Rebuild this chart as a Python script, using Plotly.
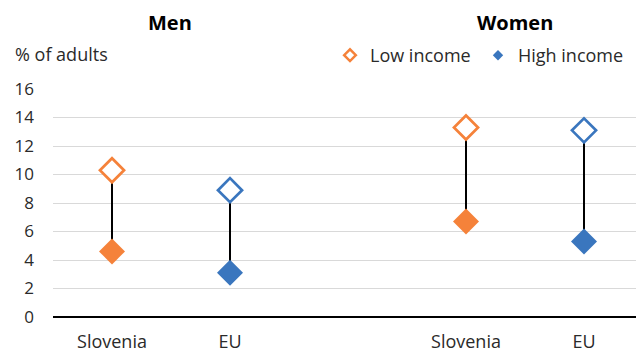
import plotly.graph_objects as go

# Data
groups = ["Men", "Women"]
countries = ["Slovenia", "EU", "Slovenia", "EU"]
x_pos = [0, 1, 3, 4]
low_income = [10.3, 8.9, 13.3, 13.1]
high_income = [4.6, 3.1, 6.7, 5.3]
colors = ["#F5823A", "#3A76BE", "#F5823A", "#3A76BE"]
y_ticks = [0, 2, 4, 6, 8, 10, 12, 14, 16]

FONT = "Open Sans"
TXT = "#2a2a2a"
OFF = 8  # default page body margin
W, H = 644 - OFF, 353 - OFF
# plot area in page pixels: x 53..643, y 89..317
L, R = 53 - OFF, W - (643 - OFF)
T, B = 89 - OFF, H - (317 - OFF)
PW, PH = W - L - R, H - T - B


def px_x(p):
    return (p - OFF - L) / PW


def px_y(p):
    return (H - B - (p - OFF)) / PH


fig = go.Figure()

# connecting lines
lx, ly = [], []
for x, lo, hi in zip(x_pos, low_income, high_income):
    lx += [x, x, None]
    ly += [lo, hi, None]
fig.add_trace(go.Scatter(x=lx, y=ly, mode="lines", line=dict(color="black", width=2),
                         showlegend=False, hoverinfo="skip"))

# high income (filled)
fig.add_trace(go.Scatter(x=x_pos, y=high_income, mode="markers", showlegend=False,
                         marker=dict(symbol="diamond", size=20, color=colors,
                                     line=dict(width=0))))
# low income (hollow)
fig.add_trace(go.Scatter(x=x_pos, y=low_income, mode="markers", showlegend=False,
                         marker=dict(symbol="diamond", size=18.5, color="white",
                                     line=dict(width=2.7, color=colors))))

# legend entries
fig.add_trace(go.Scatter(x=[None], y=[None], mode="markers", name="Low income",
                         legend="legend",
                         marker=dict(symbol="diamond-open", size=9, color="#F5823A",
                                     line=dict(width=2.5))))
fig.add_trace(go.Scatter(x=[None], y=[None], mode="markers", name="High income",
                         legend="legend2",
                         marker=dict(symbol="diamond", size=8, color="#3A76BE")))

# group titles
for g, xc in zip(groups, [170, 514.5]):
    fig.add_annotation(x=px_x(xc), xref="paper", y=px_y(22.5), yref="paper",
                       xanchor="center", yanchor="middle", borderpad=0,
                       text=f"<b>{g}</b>", showarrow=False,
                       font=dict(family=FONT, size=20, color="black"))

fig.add_annotation(x=px_x(13), xref="paper", xanchor="left", y=px_y(54.5), yref="paper",
                   yanchor="middle", text="% of adults", showarrow=False,
                   font=dict(family=FONT, size=18, color=TXT))

leg_common = dict(orientation="h", yanchor="middle", y=px_y(55.5), xanchor="left",
                  font=dict(family=FONT, size=18, color=TXT), itemwidth=30,
                  bgcolor="rgba(0,0,0,0)", borderwidth=0)

fig.update_layout(
    width=W, height=H,
    margin=dict(l=L, r=R, t=T, b=B, autoexpand=False),
    plot_bgcolor="white", paper_bgcolor="white",
    font=dict(family=FONT, size=18, color=TXT),
    legend=dict(x=px_x(330), **leg_common),
    legend2=dict(x=px_x(478), **leg_common),
    xaxis=dict(range=[-0.5, 4.5], tickmode="array", tickvals=x_pos, ticktext=countries,
               showgrid=False, zeroline=False, showline=False, ticks="",
               ticklabelstandoff=12,
               tickfont=dict(family=FONT, size=18, color=TXT)),
    yaxis=dict(range=[0, 16], tickvals=y_ticks, showgrid=True, gridcolor="#D9D9D9",
               gridwidth=1, zeroline=True, zerolinecolor="black", zerolinewidth=1.5,
               showline=False, ticks="", ticklabelstandoff=18,
               tickfont=dict(family=FONT, size=17, color=TXT)),
)

fig.write_html("out.html")
